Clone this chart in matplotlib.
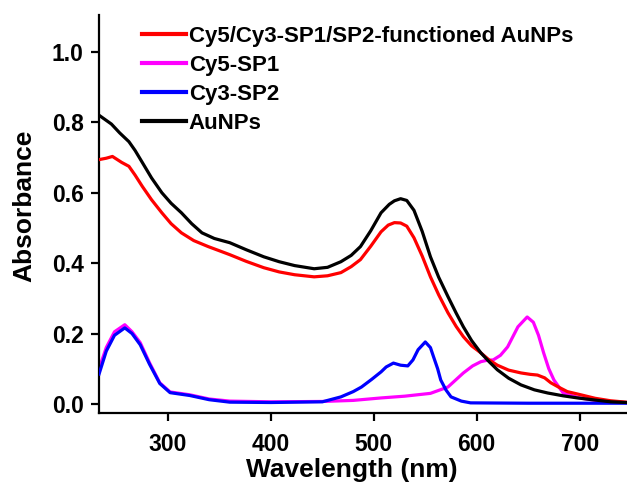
import matplotlib
matplotlib.use("Agg")
import matplotlib.pyplot as plt

plt.rcParams['font.family'] = ['Liberation Sans', 'DejaVu Sans']
plt.rcParams['font.weight'] = 'bold'

wl_au = [233, 245, 253, 262, 268, 275, 284, 294, 303, 313, 323, 333, 345, 360,
         376, 393, 408, 423, 442, 455, 468, 478, 487, 497, 507, 515, 520, 526,
         532, 539, 547, 555, 563, 572, 580, 587, 595, 604, 612, 620, 631, 643,
         656, 669, 684, 698, 715, 730, 745]
abs_au = [0.82, 0.795, 0.77, 0.745, 0.72, 0.686, 0.642, 0.60, 0.57, 0.543, 0.512,
          0.486, 0.47, 0.458, 0.438, 0.418, 0.404, 0.393, 0.384, 0.388, 0.404,
          0.422, 0.447, 0.492, 0.543, 0.567, 0.577, 0.583, 0.578, 0.55, 0.49, 0.418,
          0.36, 0.305, 0.258, 0.219, 0.18, 0.145, 0.12, 0.097, 0.073, 0.054, 0.04,
          0.031, 0.023, 0.017, 0.011, 0.006, 0.004]

wl_mix = [233, 240, 246, 255, 262, 268, 275, 284, 294, 303, 313, 325, 339, 350,
          360, 376, 393, 408, 423, 442, 455, 468, 478, 487, 497, 507, 514, 520,
          526, 532, 539, 547, 555, 563, 572, 580, 587, 595, 604, 612, 620, 631,
          643, 652, 659, 666, 672, 680, 688, 701, 715, 730, 745]
abs_mix = [0.694, 0.698, 0.703, 0.686, 0.675, 0.65, 0.618, 0.58, 0.543, 0.512,
           0.486, 0.464, 0.447, 0.435, 0.424, 0.405, 0.387, 0.375, 0.367, 0.361,
           0.364, 0.373, 0.39, 0.41, 0.448, 0.489, 0.508, 0.515, 0.514, 0.505, 0.472,
           0.42, 0.361, 0.31, 0.259, 0.22, 0.191, 0.165, 0.145, 0.125, 0.11, 0.096,
           0.088, 0.084, 0.082, 0.074, 0.06, 0.047, 0.035, 0.026, 0.016, 0.009, 0.005]

wl_cy5 = [233, 240, 248, 258, 265, 273, 282, 292, 302, 321, 340, 360, 400, 450,
          480, 507, 530, 555, 572, 587, 596, 604, 610, 616, 623, 630, 640, 649,
          655, 660, 665, 670, 675, 684, 700, 720, 745]
abs_cy5 = [0.10, 0.16, 0.205, 0.225, 0.205, 0.174, 0.117, 0.06, 0.034, 0.026,
           0.014, 0.008, 0.006, 0.007, 0.01, 0.017, 0.022, 0.03, 0.048, 0.088, 0.108,
           0.12, 0.124, 0.125, 0.138, 0.162, 0.219, 0.247, 0.232, 0.195, 0.145, 0.1,
           0.068, 0.031, 0.017, 0.008, 0.004]

wl_cy3 = [233, 240, 248, 258, 265, 273, 282, 292, 302, 321, 340, 360, 400, 450,
          468, 480, 488, 498, 507, 512, 519, 526, 533, 538, 543, 550, 555, 558, 562,
          565, 570, 575, 585, 594, 650, 745]
abs_cy3 = [0.085, 0.15, 0.195, 0.216, 0.2, 0.168, 0.113, 0.058, 0.032, 0.024,
           0.012, 0.005, 0.004, 0.006, 0.02, 0.035, 0.048, 0.07, 0.091, 0.105, 0.116,
           0.11, 0.108, 0.125, 0.154, 0.176, 0.16, 0.134, 0.1, 0.068, 0.04, 0.02,
           0.008, 0.003, 0.002, 0.002]

labels = ['Cy5/Cy3-SP1/SP2-functioned AuNPs', 'Cy5-SP1', 'Cy3-SP2', 'AuNPs']

fig = plt.figure(figsize=(6.27, 4.82), dpi=100)
ax = fig.add_axes([0.158, 0.143, 0.842, 0.826])

ax.plot(wl_mix, abs_mix, color='#ff0000', lw=2.3, label=labels[0], zorder=3)
ax.plot(wl_cy5, abs_cy5, color='#ff00ff', lw=2.3, label=labels[1], zorder=2)
ax.plot(wl_cy3, abs_cy3, color='#0000ff', lw=2.3, label=labels[2], zorder=3)
ax.plot(wl_au, abs_au, color='black', lw=2.3, label=labels[3], zorder=4)

ax.set_xlim(233, 746)
ax.set_ylim(-0.026, 1.105)
ax.set_xticks([300, 400, 500, 600, 700])
ax.set_yticks([0.0, 0.2, 0.4, 0.6, 0.8, 1.0])
ax.set_yticklabels(['0.0', '0.2', '0.4', '0.6', '0.8', '1.0'])

for s in ['top', 'right']:
    ax.spines[s].set_visible(False)
for s in ['left', 'bottom']:
    ax.spines[s].set_linewidth(1.6)
ax.tick_params(direction='out', length=6, width=1.6, labelsize=16.5, pad=5)
ax.tick_params(axis='x', pad=8)
for t in ax.get_xticklabels() + ax.get_yticklabels():
    t.set_fontweight('bold')

ax.set_xlabel('Wavelength (nm)', fontsize=19, fontweight='bold')
ax.set_ylabel('Absorbance', fontsize=19, fontweight='bold')
ax.xaxis.set_label_coords(0.479, -0.112)
ax.yaxis.set_label_coords(-0.118, 0.52)

leg = ax.legend(loc='upper left', bbox_to_anchor=(0.065, 0.994), frameon=False,
                fontsize=16, handlelength=1.95, handletextpad=0.15,
                labelspacing=0.35, borderaxespad=0)
for t in leg.get_texts():
    t.set_fontweight('bold')
for l in leg.get_lines():
    l.set_linewidth(3)

fig.savefig('out.png', dpi=100)
